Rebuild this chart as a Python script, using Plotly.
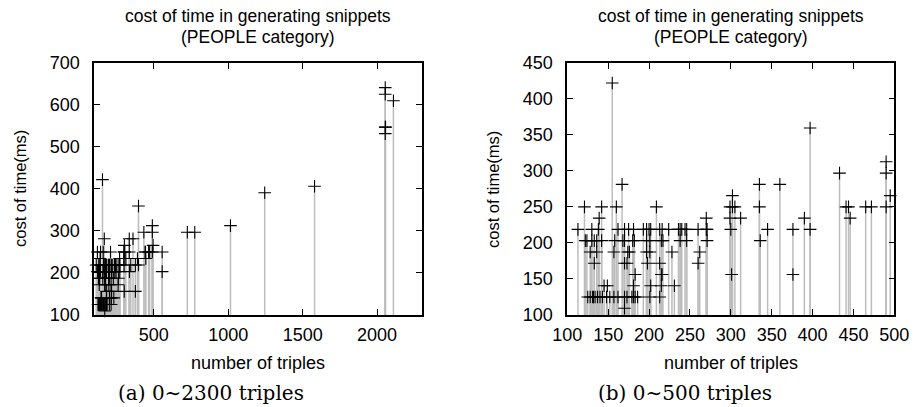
import plotly.graph_objects as go

# ---- data: (number of triples, cost of time in ms) ----
triples = [
    113, 121, 122, 124, 125, 128, 128, 130, 130, 131, 132, 133, 133, 134, 136, 136, 137, 138, 139, 140,
    142, 142, 143, 145, 148, 149, 152, 155, 157, 157, 158, 160, 162, 162, 167, 168, 170, 170, 170, 170,
    170, 173, 173, 174, 175, 176, 179, 180, 181, 181, 181, 182, 183, 183, 186, 193, 197, 197, 197, 198,
    200, 201, 201, 201, 202, 202, 209, 213, 213, 213, 215, 215, 215, 216, 216, 217, 224, 228, 231, 236,
    238, 238, 240, 244, 246, 246, 260, 260, 262, 270, 270, 271, 271, 299, 299, 300, 301, 302, 302, 305,
    312, 335, 335, 336, 345, 360, 376, 376, 390, 397, 397, 433, 441, 444, 446, 465, 472, 490, 490, 490,
    495, 556, 556, 725, 775, 1015, 1245, 1580, 2055, 2055, 2055, 2057, 2055, 2110,
]
cost = [
    218.75, 250, 203.125, 203.125, 125, 125, 187.5, 218.75, 203.125, 125, 125, 171.875, 203.125, 125, 187.5, 203.125, 125, 218.75, 234.375, 125,
    250, 203.125, 125, 140.625, 125, 140.625, 125, 421.875, 125, 187.5, 203.125, 250, 218.75, 125, 281.25, 203.125, 203.125, 109.375, 125, 218.75,
    171.875, 125, 171.875, 187.5, 218.75, 187.5, 125, 203.125, 218.75, 140.625, 125, 203.125, 156.25, 125, 125, 218.75, 218.75, 203.125, 187.5, 171.875,
    218.75, 125, 203.125, 187.5, 140.625, 218.75, 250, 218.75, 171.875, 125, 203.125, 156.25, 140.625, 218.75, 156.25, 203.125, 218.75, 187.5, 140.625, 218.75,
    218.75, 203.125, 218.75, 218.75, 218.75, 203.125, 218.75, 171.875, 187.5, 234.375, 218.75, 218.75, 203.125, 250, 234.375, 218.75, 156.25, 250, 265.625, 250,
    234.375, 281.25, 250, 203.125, 218.75, 281.25, 218.75, 156.25, 234.375, 359.375, 218.75, 296.875, 250, 250, 234.375, 250, 250, 312.5, 296.875, 250,
    265.625, 250, 203.125, 296.875, 296.875, 312.5, 390.625, 406.25, 640.625, 625, 546.875, 546.875, 531.25, 609.375,
]

left_xticks = [500, 1000, 1500, 2000]
left_yticks = [100, 200, 300, 400, 500, 600, 700]
right_xticks = [100, 150, 200, 250, 300, 350, 400, 450, 500]
right_yticks = [100, 150, 200, 250, 300, 350, 400, 450]

title1 = "cost of time in generating snippets"
title2 = "(PEOPLE category)"
xlabel = "number of triples"
ylabel = "cost of time(ms)"
captions = ["(a) 0∼2300 triples", "(b) 0∼500 triples"]

SANS = "Liberation Sans, Arial, sans-serif"
SERIF = "DejaVu Serif, serif"
FS = 18
LINE_COLOR = "#bdbdbd"

W, H = 914, 407
fig = go.Figure()


def impulses(xs, ys):
    lx, ly = [], []
    for x, y in zip(xs, ys):
        lx += [x, x, None]
        ly += [0, y, None]
    return lx, ly


panels = [
    dict(xs=triples, ys=cost, xa="x", ya="y"),
    dict(xs=[x for x in triples if x <= 500],
         ys=[y for x, y in zip(triples, cost) if x <= 500], xa="x2", ya="y2"),
]
for p in panels:
    lx, ly = impulses(p["xs"], p["ys"])
    fig.add_trace(go.Scatter(x=lx, y=ly, mode="lines", xaxis=p["xa"], yaxis=p["ya"],
                             line=dict(color=LINE_COLOR, width=1.5), hoverinfo="skip",
                             showlegend=False))
    fig.add_trace(go.Scatter(x=p["xs"], y=p["ys"], mode="markers", xaxis=p["xa"], yaxis=p["ya"],
                             marker=dict(symbol="cross-thin", size=9,
                                         line=dict(color="black", width=1.1)),
                             cliponaxis=False, showlegend=False))

common_axis = dict(showline=True, linecolor="black", linewidth=1.6, mirror="allticks",
                   ticks="inside", ticklen=6, tickwidth=1, tickcolor="black",
                   showgrid=False, zeroline=False, automargin=False,
                   tickfont=dict(family=SANS, size=FS, color="black"))

x1d = [94.3 / W, 421.7 / W]
x2d = [567.3 / W, 894.3 / W]
yd = [92 / H, 344.3 / H]

fig.update_layout(
    width=W, height=H, autosize=False,
    margin=dict(l=0, r=0, t=0, b=0, pad=0),
    paper_bgcolor="white", plot_bgcolor="white",
    xaxis=dict(domain=x1d, range=[100, 2300], tickvals=left_xticks, anchor="y",
               ticklabelstandoff=3, **common_axis),
    yaxis=dict(domain=yd, range=[100, 700], tickvals=left_yticks, anchor="x",
               ticklabelstandoff=9, **common_axis),
    xaxis2=dict(domain=x2d, range=[100, 500], tickvals=right_xticks, anchor="y2",
                ticklabelstandoff=3, **common_axis),
    yaxis2=dict(domain=yd, range=[100, 450], tickvals=right_yticks, anchor="x2",
                ticklabelstandoff=9, **common_axis),
)

ann = []
centers = [(x1d[0] + x1d[1]) / 2, (x2d[0] + x2d[1]) / 2]
ylab_x = [20 / W, 493 / W]
cap_x = [211.4 / W, 684.7 / W]
for i in range(2):
    ann.append(dict(text=title1, x=centers[i], y=1 - 15.8 / H, xref="paper", yref="paper",
                    xanchor="center", yanchor="middle", showarrow=False,
                    font=dict(family=SANS, size=17.5, color="black")))
    ann.append(dict(text=title2, x=centers[i], y=1 - 36.8 / H, xref="paper", yref="paper",
                    xanchor="center", yanchor="middle", showarrow=False,
                    font=dict(family=SANS, size=17.5, color="black")))
    ann.append(dict(text=xlabel, x=centers[i], y=1 - 363 / H, xref="paper", yref="paper",
                    xanchor="center", yanchor="middle", showarrow=False,
                    font=dict(family=SANS, size=FS, color="black")))
    ann.append(dict(text=ylabel, x=ylab_x[i], y=1 - 189 / H, xref="paper", yref="paper",
                    xanchor="center", yanchor="middle", showarrow=False, textangle=-90,
                    font=dict(family=SANS, size=16.5, color="black")))
    ann.append(dict(text=captions[i], x=cap_x[i], y=1 - 393 / H, xref="paper", yref="paper",
                    xanchor="center", yanchor="middle", showarrow=False,
                    font=dict(family=SERIF, size=20, color="black")))
fig.update_layout(annotations=ann)

fig.write_html("out.html", config={"displayModeBar": False},
               post_script="document.body.style.margin='0';document.body.style.padding='0';")
